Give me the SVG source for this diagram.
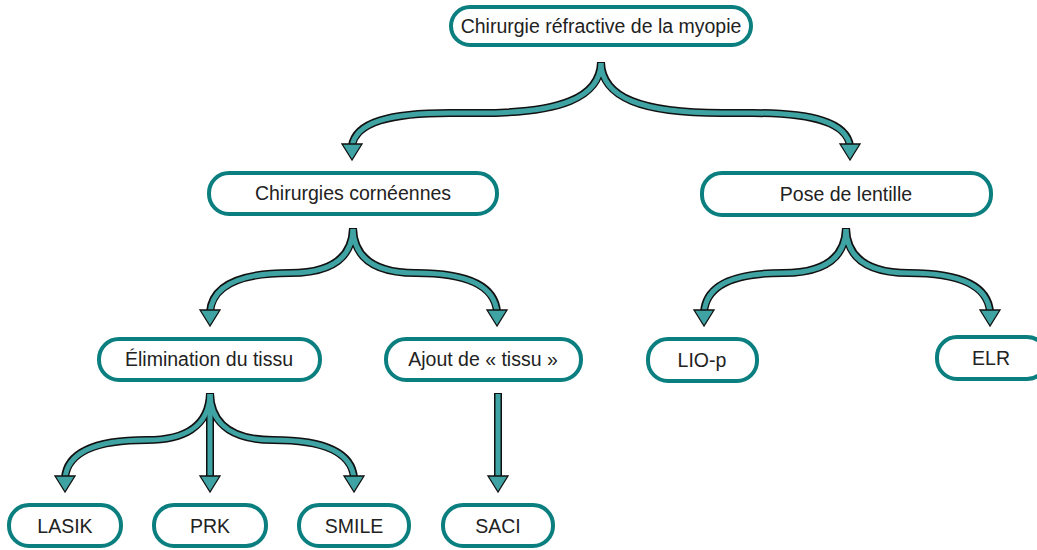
<svg xmlns="http://www.w3.org/2000/svg" width="1037" height="550" viewBox="0 0 1037 550">
<style>
.node rect{fill:#fff;stroke:#0b7f7f;stroke-width:4}
.node text{font-family:"Liberation Sans",Arial,sans-serif;font-size:19.5px;fill:#222;text-anchor:middle;dominant-baseline:central}
.edge .o{fill:none;stroke:#111;stroke-width:8;stroke-linecap:butt}
.edge .i{fill:none;stroke:#3fa3a3;stroke-width:5;stroke-linecap:butt}
.edge .h{fill:#3fa3a3;stroke:#111;stroke-width:1.3;stroke-linejoin:miter}
</style>
<defs>
<polygon id="ah" points="0,0 -10,-16 10,-16"/>
</defs>
<rect width="1037" height="550" fill="#fff"/>
<g id="connectors" class="edge">
  <path class="o" d="M601,62 C600,98 560,113 480,113 L450,113 C390,113 355,122 352,146"/>
  <path class="o" d="M601,62 C602,98 642,113 722,113 L752,113 C812,113 847,122 850,146"/>
  <path class="i" d="M601,63 C600,98 560,113 480,113 L450,113 C390,113 355,122 352,147"/>
  <path class="i" d="M601,63 C602,98 642,113 722,113 L752,113 C812,113 847,122 850,147"/>
  <use href="#ah" class="h" x="352" y="160"/>
  <use href="#ah" class="h" x="850" y="160"/>
  <path class="o" d="M353,228 C352,262 325,273 290,273 C240,273 212,285 210,312"/>
  <path class="o" d="M353,228 C354,262 381,273 416,273 C466,273 495,285 497,312"/>
  <path class="i" d="M353,229 C352,262 325,273 290,273 C240,273 212,285 210,313"/>
  <path class="i" d="M353,229 C354,262 381,273 416,273 C466,273 495,285 497,313"/>
  <use href="#ah" class="h" x="210" y="326"/>
  <use href="#ah" class="h" x="497" y="326"/>
  <path class="o" d="M846,228 C845,262 818,273 783,273 C733,273 706,285 704,312"/>
  <path class="o" d="M846,228 C847,262 874,273 909,273 C959,273 988,285 990,312"/>
  <path class="i" d="M846,229 C845,262 818,273 783,273 C733,273 706,285 704,313"/>
  <path class="i" d="M846,229 C847,262 874,273 909,273 C959,273 988,285 990,313"/>
  <use href="#ah" class="h" x="704" y="326"/>
  <use href="#ah" class="h" x="990" y="326"/>
  <path class="o" d="M210,393 C209,428 182,440 147,440 C97,440 67,452 65,478"/>
  <path class="o" d="M210,393 C211,428 238,440 273,440 C323,440 352,452 354,478"/>
  <path class="o" d="M210,393 L210,478"/>
  <path class="i" d="M210,394 C209,428 182,440 147,440 C97,440 67,452 65,479"/>
  <path class="i" d="M210,394 C211,428 238,440 273,440 C323,440 352,452 354,479"/>
  <path class="i" d="M210,394 L210,479"/>
  <use href="#ah" class="h" x="65" y="492"/>
  <use href="#ah" class="h" x="210" y="492"/>
  <use href="#ah" class="h" x="354" y="492"/>
  <path class="o" d="M498,393 L498,478"/>
  <path class="i" d="M498,394 L498,479"/>
  <use href="#ah" class="h" x="498" y="492"/>
</g>
<g id="n-root" class="node"><rect x="451" y="7" width="300" height="38" rx="19"/><text x="601" y="26">Chirurgie réfractive de la myopie</text></g>
<g id="n-corneennes" class="node"><rect x="209" y="173" width="288" height="41" rx="20"/><text x="353" y="193">Chirurgies cornéennes</text></g>
<g id="n-lentille" class="node"><rect x="702" y="173" width="289" height="42" rx="20"/><text x="846" y="194">Pose de lentille</text></g>
<g id="n-elimination" class="node"><rect x="99" y="339" width="221" height="41" rx="20"/><text x="209" y="359">Élimination du tissu</text></g>
<g id="n-ajout" class="node"><rect x="386" y="339" width="195" height="41" rx="20"/><text x="483" y="359">Ajout de « tissu »</text></g>
<g id="n-liop" class="node"><rect x="648" y="339" width="109" height="42" rx="20"/><text x="702" y="360">LIO-p</text></g>
<g id="n-elr" class="node"><rect x="937" y="337" width="110" height="42" rx="20"/><text x="991" y="358">ELR</text></g>
<g id="n-lasik" class="node"><rect x="9" y="505" width="112" height="41" rx="20"/><text x="65" y="526">LASIK</text></g>
<g id="n-prk" class="node"><rect x="154" y="505" width="112" height="41" rx="20"/><text x="210" y="526">PRK</text></g>
<g id="n-smile" class="node"><rect x="299" y="505" width="110" height="41" rx="20"/><text x="354" y="526">SMILE</text></g>
<g id="n-saci" class="node"><rect x="443" y="505" width="110" height="41" rx="20"/><text x="498" y="526">SACI</text></g>
</svg>
